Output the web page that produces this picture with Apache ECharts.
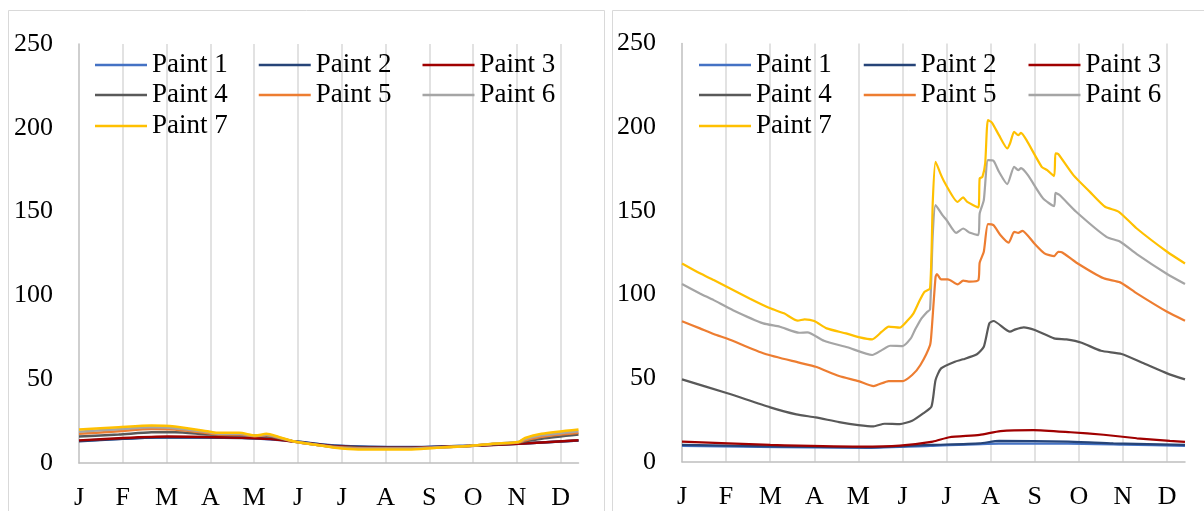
<!DOCTYPE html>
<html>
<head>
<meta charset="utf-8">
<script src="https://cdn.jsdelivr.net/npm/echarts@6/dist/echarts.min.js"></script>
<style>
html,body{margin:0;padding:0;background:#fff;}
#chart{width:1204px;height:511px;}
</style>
</head>
<body>
<div id="chart"></div>
<script>
// ---- tick labels / categories ----
var monthLetters = ['J','F','M','A','M','J','J','A','S','O','N','D'];
var seriesNames = ['Paint 1','Paint 2','Paint 3','Paint 4','Paint 5','Paint 6','Paint 7'];
var yTicks = [0, 50, 100, 150, 200, 250];

// ---- left panel data: [day, value] ----
var leftPaint1 = [[0,13.2],[65,15.4],[119,15],[159,12.8],[187,10.4],[241,9.5],[285,10.3],[321,11.5],[365,13.4]];
var leftPaint2 = [[0,13],[29,14.3],[65,15.3],[119,14.9],[140,14.4],[159,12.8],[187,10.3],[241,9.3],[285,10.3],[321,11.5],[365,13.4]];
var leftPaint3 = [[0,13.5],[29,14.8],[65,15.8],[119,15.1],[140,14.3],[159,12.6],[187,10],[241,9.1],[285,10.1],[321,11.5],[365,13.6]];
var leftPaint4 = [[0,15.8],[29,17],[53,18.3],[70,18.4],[94.5,17],[116.5,16.6],[137,16],[146,14.8],[159,12.5],[187,9.7],[241,8.9],[285,10.2],[321,12.2],[338,14.5],[365,17]];
var leftPaint5 = [[0,17.4],[29,19],[53,20.3],[70,20],[94.5,17.8],[102,17],[116.5,17.1],[128.7,16],[137,16.5],[146,15],[159,12.5],[172.5,10.9],[187,9.5],[204,8.8],[241,8.6],[260,9.3],[285,10.2],[302,11.4],[321,12.3],[326,13.5],[338,15.6],[365,18]];
var leftPaint6 = [[0,18.6],[29,20.2],[53,21.3],[70,20.8],[94.5,18.3],[102,17.5],[116.5,17.5],[128.7,16.2],[137,16.9],[146,15.2],[159,12.5],[172.5,10.9],[187,9.3],[204,8.5],[241,8.5],[260,9.2],[285,10.1],[302,11.5],[321,12.5],[326,14.3],[338,16.5],[365,19]];
var leftPaint7 = [[0,20],[29,21.4],[53,22.4],[70,21.8],[94.5,18.8],[102,18],[116.5,18],[128.7,16.4],[137,17.4],[146,15.5],[159,12.5],[172.5,10.9],[187,9.1],[204,8.1],[241,8.1],[260,9],[285,10.1],[302,11.5],[321,12.5],[326,14.9],[338,17.4],[365,20]];

// ---- right panel data: [day, value] ----
var rightPaint1 = [[0,9.4],[135,8.3],[180,9.4],[230,10.8],[280,10.8],[320,10.2],[365,9.4]];
var rightPaint2 = [[0,10],[64,9.2],[135,8.5],[180,10],[216,11],[230,12.4],[280,12],[313,11],[365,10]];
var rightPaint3 = [[0,12],[63.5,10],[130,9],[158,9.6],[182,12],[194,14.6],[216,16],[231,18.3],[255,18.9],[282,17.6],[306,16.1],[330,14],[354,12.4],[365,11.8]];
var rightPaint4 = [[0,49.2],[33,40.9],[63.5,32.5],[83,28.3],[97,26.5],[114,23.7],[128,21.9],[139,21.1],[147,22.7],[158,22.5],[167,24.5],[175,28.9],[181.4,32.9],[183.6,48.8],[188,55.8],[197.7,59.8],[204,61.2],[214.4,64.2],[218.6,68.7],[222.8,82.7],[225.6,84.1],[238.2,77.7],[242.4,79.1],[247.9,80.3],[256.4,78.7],[270.3,73.7],[278.7,73.1],[290,71.1],[304,66.3],[319.3,64.4],[334.6,58.8],[351.5,52.8],[365,49.2]];
var rightPaint5 = [[0,84],[13,79.7],[25,75.7],[33,73.5],[60,64.5],[84.5,59.2],[97,56.8],[114,51.2],[128,48.2],[139,45.2],[150,48.2],[160,48.2],[167,51.8],[172.5,57.8],[179.5,69.7],[181.4,76.7],[183.6,110.5],[185,112.2],[188,109],[193,109],[200,106],[203.5,108.2],[208.7,107.6],[215,108.4],[216.3,118.9],[219.2,125.5],[222,142],[225.5,141.4],[230.8,135.5],[237.3,130.9],[240.8,137.4],[243.7,136.8],[246.8,138],[256,130.1],[263.4,124.5],[269.8,122.9],[273.4,125.5],[275.8,125.1],[286.4,119.1],[305.7,109.6],[318,107.2],[330,100.6],[352,89.6],[365,84.3]];
var rightPaint6 = [[0,106.2],[13,100.6],[23,96.6],[37,90.6],[59,82.7],[71,80.7],[84.5,77.1],[90.5,77.3],[102.5,72.3],[119.5,68.4],[138.4,63.8],[145,66.7],[151,69.3],[159.5,69.1],[165.5,73.7],[169,78.7],[173,84.7],[177.7,89.6],[180,91],[182,136.5],[184,153.4],[188.5,147.4],[192,144.4],[199.3,136.8],[203.5,139.4],[209,136.8],[215,135.5],[216.3,148.4],[219.2,156.4],[222,180.3],[225.5,179.9],[230,173.3],[236,165.9],[240.8,176.3],[243.7,174.3],[246,175.5],[250.5,171.3],[262,157.4],[269.8,152.8],[271.4,160.7],[274.3,159.4],[286.4,149.4],[308,134.4],[318,131.5],[330,124.1],[352,112.2],[365,106.2]];
var rightPaint7 = [[0,118.5],[13,112.6],[23,108.6],[49,97.6],[64,91.7],[74,88.7],[84,84.3],[89,85.1],[96,84.1],[105,79.7],[119,76.7],[129,74.3],[138,73.1],[145,77.7],[150,80.7],[158,80.1],[164,84.7],[168,88.7],[172,95.6],[176,101.6],[180,103.6],[182,156],[184,179.3],[188,171.3],[191,166.3],[200,155.3],[203.5,158],[207,155.3],[215,152],[216,169.3],[218,170.3],[220,178.3],[222,204.2],[225,202.6],[230,195.2],[236,187.3],[238,190.2],[241,197.2],[244,195.2],[246,196.6],[250,192.2],[261,176.3],[265,174.3],[270,170.7],[271,184.3],[273,183.9],[284,171.3],[296,161.3],[307,152.4],[317,149.4],[330,139.4],[352,125.5],[365,118.5]];

var leftData = [leftPaint1,leftPaint2,leftPaint3,leftPaint4,leftPaint5,leftPaint6,leftPaint7];
var rightData = [rightPaint1,rightPaint2,rightPaint3,rightPaint4,rightPaint5,rightPaint6,rightPaint7];

var colors = ['#4472C4','#264478','#A00000','#595959','#ED7D31','#A5A5A5','#FFC000'];
var FONT = "'Liberation Serif','Times New Roman',serif";

// categories: one per day (0..365); label every 32 days
var dayCats = [];
for (var i = 0; i <= 365; i++) dayCats.push(String(i));

function xAxisFor(gridIndex){
  return {
    type:'category', gridIndex:gridIndex, data:dayCats, boundaryGap:false,
    axisLine:{show:true, lineStyle:{color:'#BFBFBF', width:1.5}},
    axisTick:{show:false},
    axisLabel:{
      interval:function(idx){ return idx % 32 === 0; },
      formatter:function(v){ var n = +v; return n % 32 === 0 ? (monthLetters[n/32] || '') : ''; },
      color:'#000', fontFamily:FONT, fontSize:26, margin:22
    },
    splitLine:{show:true, interval:function(idx){ return idx % 32 === 0 && idx > 0; }, lineStyle:{color:'#D9D9D9', width:1.5}}
  };
}
function yAxisFor(gridIndex){
  return {
    type:'value', gridIndex:gridIndex, min:yTicks[0], max:yTicks[yTicks.length-1], interval:50,
    axisLine:{show:true, lineStyle:{color:'#BFBFBF', width:1.5}},
    axisTick:{show:false},
    splitLine:{show:false},
    axisLabel:{color:'#000', fontFamily:FONT, fontSize:26, margin:26}
  };
}

var series = [];
for (var k = 0; k < 7; k++) {
  series.push({name:seriesNames[k], type:'line', xAxisIndex:0, yAxisIndex:0, data:leftData[k].map(function(p){return [String(Math.round(p[0])), p[1]];}),
    color:colors[k], showSymbol:false, symbol:'none', smooth:0.25, lineStyle:{width:2.5, color:colors[k]}, animation:false, z:2+k});
}
for (var k2 = 0; k2 < 7; k2++) {
  series.push({name:seriesNames[k2], type:'line', xAxisIndex:1, yAxisIndex:1, data:rightData[k2].map(function(p){return [String(Math.round(p[0])), p[1]];}),
    color:colors[k2], showSymbol:false, symbol:'none', smooth:0.2, lineStyle:{width:2.2, color:colors[k2]}, animation:false, z:2+k2});
}

function legendRow(left, top, names, gap){
  return {
    left:left, top:top, orient:'horizontal', icon:'rect', itemWidth:52, itemHeight:2.5,
    itemGap:gap, selectedMode:false, padding:0,
    textStyle:{color:'#000', fontFamily:FONT, fontSize:27, lineHeight:30},
    data:names
  };
}
var rowTops = [50, 80, 111];
var legends = [
  legendRow(95, rowTops[0], seriesNames.slice(0,3), 31),
  legendRow(95, rowTops[1], seriesNames.slice(3,6), 31),
  legendRow(95, rowTops[2], seriesNames.slice(6,7), 31),
  legendRow(699, rowTops[0], seriesNames.slice(0,3), 32),
  legendRow(699, rowTops[1], seriesNames.slice(3,6), 32),
  legendRow(699, rowTops[2], seriesNames.slice(6,7), 32)
];

var chart = echarts.init(document.getElementById('chart'), null, {renderer:'canvas'});
chart.setOption({
  backgroundColor:'#fff',
  animation:false,
  graphic:[
    {type:'rect', shape:{x:8.5, y:10.5, width:596, height:530}, style:{fill:'none', stroke:'#D9D9D9', lineWidth:1}, z:0},
    {type:'rect', shape:{x:612.5, y:10.5, width:620, height:530}, style:{fill:'none', stroke:'#D9D9D9', lineWidth:1}, z:0}
  ],
  grid:[
    {left:79, right:625.5, top:44, bottom:46.7},
    {left:682, right:19, top:43.5, bottom:49.3}
  ],
  legend:legends,
  xAxis:[xAxisFor(0), xAxisFor(1)],
  yAxis:[yAxisFor(0), yAxisFor(1)],
  series:series
});
</script>
</body>
</html>
